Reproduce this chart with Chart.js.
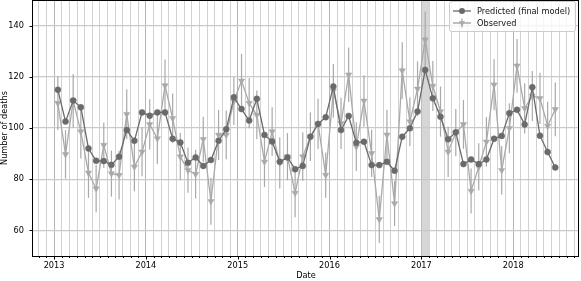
<!DOCTYPE html>
<html>
<head>
<meta charset="utf-8">
<script src="https://cdn.jsdelivr.net/npm/chart.js@4.4.1/dist/chart.umd.min.js"></script>
<style>
  html, body { margin: 0; padding: 0; background: #fff; }
  canvas { display: block; }
</style>
</head>
<body>
<canvas id="deathsChart" width="581" height="281"></canvas>
<script>
// monthly series, Jan 2013 .. Jun 2018 (index 0 = Jan 2013)
const yearLabels = ['2013', '2014', '2015', '2016', '2017', '2018'];
const predicted = [
    114.9, 102.5, 110.7, 108.1, 92.0, 87.2, 87.1, 85.6, 88.8, 99.2, 95.0, 106.1,
    104.8, 106.1, 106.1, 95.8, 94.3, 86.4, 88.5, 85.2, 87.5, 95.0, 99.5, 112.0,
    107.4, 102.9, 111.4, 97.3, 94.7, 86.8, 88.5, 83.9, 85.2, 96.6, 101.6, 104.2,
    116.2, 99.2, 104.7, 94.2, 94.6, 85.5, 85.5, 86.8, 83.3, 96.6, 99.9, 106.4,
    122.7, 111.6, 104.4, 95.6, 98.3, 85.9, 87.7, 85.9, 87.7, 95.8, 96.9, 105.8,
    107.1, 101.4, 115.9, 97.0, 90.6, 84.6
];
const observed = [
    109.7, 89.7, 110.6, 98.6, 82.5, 76.3, 93.3, 82.2, 81.6, 105.4, 84.8, 90.7,
    101.4, 95.9, 116.6, 103.8, 88.8, 83.5, 82.0, 95.6, 71.4, 97.3, 97.3, 110.5,
    118.4, 109.7, 105.1, 86.8, 98.6, 86.4, 88.8, 74.6, 88.8, 96.6, 101.6, 81.6,
    114.5, 101.8, 120.8, 92.7, 110.6, 90.1, 64.3, 97.3, 70.5, 122.4, 102.5, 115.3,
    134.5, 116.4, 106.4, 90.7, 98.2, 101.4, 75.4, 84.8, 94.6, 116.9, 83.5, 99.9,
    124.3, 107.7, 112.5, 111.6, 100.8, 107.3
];
const observedErr = [
    10.5, 9.5, 10.5, 10.5, 9.8, 9.2, 8.8, 9.0, 9.5, 9.7, 9.5, 9.5,
    9.8, 10.0, 10.2, 9.7, 9.2, 8.8, 9.5, 8.8, 9.2, 9.8, 9.5, 9.3,
    10.6, 9.8, 9.5, 9.8, 9.5, 10.0, 9.2, 9.5, 9.5, 9.5, 9.8, 8.8,
    10.5, 10.0, 10.6, 9.5, 10.0, 9.2, 9.2, 9.8, 8.8, 11.1, 9.5, 10.7,
    11.0, 9.8, 9.8, 9.8, 9.2, 9.5, 8.8, 9.2, 9.7, 10.0, 9.5, 9.8,
    10.5, 9.8, 9.8, 10.0, 9.5, 10.5
];
const yTicks = [60, 80, 100, 120, 140];
const shadedMonths = [48, 49]; // Jan 2017

const predColor = '#6a6a6a';
const obsColor = '#a9a9a9';
const font = { family: 'DejaVu Sans', size: 8.2 };

// month boundaries used for the monthly grid
const monthTicks = [];
for (let m = -2; m <= 68; m++) monthTicks.push(m);

const toPoints = arr => arr.map((v, i) => ({ x: i + 0.5, y: v }));

// drop the extra room chart.js keeps for half a tick label
const noPad = s => {
    s.paddingTop = 0; s.paddingBottom = 0; s.paddingLeft = 0; s.paddingRight = 0;
    s.getPadding = () => ({ left: 0, top: 0, right: 0, bottom: 0 });
};

const extrasPlugin = {
    id: 'extras',
    beforeDatasetsDraw(chart) {
        const { ctx, chartArea: a, scales: { x, y } } = chart;
        ctx.save();
        // shaded month
        ctx.fillStyle = 'rgba(200,200,200,0.75)';
        const x0 = x.getPixelForValue(shadedMonths[0]);
        const x1 = x.getPixelForValue(shadedMonths[1]);
        ctx.fillRect(x0, a.top, x1 - x0, a.bottom - a.top);
        // error bars
        ctx.beginPath();
        ctx.rect(a.left, a.top, a.right - a.left, a.bottom - a.top);
        ctx.clip();
        ctx.strokeStyle = obsColor;
        ctx.lineWidth = 1.2;
        observed.forEach((v, i) => {
            const px = x.getPixelForValue(i + 0.5);
            ctx.beginPath();
            ctx.moveTo(px, y.getPixelForValue(v - observedErr[i]));
            ctx.lineTo(px, y.getPixelForValue(v + observedErr[i]));
            ctx.stroke();
        });
        ctx.restore();
    },
    afterDraw(chart) {
        const { ctx, chartArea: a, scales: { x, y } } = chart;
        ctx.save();
        // frame
        ctx.strokeStyle = '#000';
        ctx.lineWidth = 1;
        ctx.strokeRect(Math.round(a.left) - 0.5, Math.round(a.top) + 0.5,
                       Math.round(a.right - a.left), Math.round(a.bottom - a.top));
        // tick marks
        ctx.beginPath();
        monthTicks.forEach(m => {
            const px = Math.round(x.getPixelForValue(m)) + 0.5;
            ctx.moveTo(px, a.bottom);
            ctx.lineTo(px, a.bottom + (m % 12 === 0 ? 3.5 : 2));
        });
        yTicks.forEach(v => {
            const py = Math.round(y.getPixelForValue(v)) + 0.5;
            ctx.moveTo(a.left - 3.5, py);
            ctx.lineTo(a.left, py);
        });
        ctx.stroke();

        // legend
        const bx = 449.5, by = 1.5, bw = 126, bh = 30;
        ctx.fillStyle = 'rgba(255,255,255,0.8)';
        ctx.strokeStyle = '#cccccc';
        ctx.beginPath();
        ctx.roundRect(bx, by, bw, bh, 2);
        ctx.fill();
        ctx.stroke();
        ctx.font = '8.2px "DejaVu Sans"';
        ctx.textBaseline = 'middle';
        chart.data.datasets.forEach((ds, k) => {
            const ly = 11 + k * 12;
            ctx.strokeStyle = ds.borderColor;
            ctx.lineWidth = 1.3;
            ctx.beginPath();
            ctx.moveTo(453, ly);
            ctx.lineTo(471, ly);
            if (k === 1) {
                ctx.moveTo(462, ly - 4.5);
                ctx.lineTo(462, ly + 4.5);
            }
            ctx.stroke();
            ctx.fillStyle = ds.borderColor;
            ctx.beginPath();
            if (k === 0) {
                ctx.arc(462, ly, 3, 0, Math.PI * 2);
            } else {
                ctx.moveTo(462 - 3, ly - 1.7);
                ctx.lineTo(462 + 3, ly - 1.7);
                ctx.lineTo(462, ly + 3.4);
                ctx.closePath();
            }
            ctx.fill();
            ctx.fillStyle = '#111';
            ctx.fillText(ds.label, 477, ly + 0.5);
        });
        ctx.restore();
    }
};

new Chart(document.getElementById('deathsChart').getContext('2d'), {
    type: 'line',
    data: {
        datasets: [
            {
                label: 'Predicted (final model)',
                data: toPoints(predicted),
                borderColor: predColor,
                backgroundColor: predColor,
                borderWidth: 1.3,
                pointStyle: 'circle',
                pointRadius: 3,
                pointBorderWidth: 0.5,
                tension: 0
            },
            {
                label: 'Observed',
                data: toPoints(observed),
                borderColor: obsColor,
                backgroundColor: obsColor,
                borderWidth: 1.3,
                pointStyle: 'triangle',
                pointRotation: 180,
                pointRadius: 3.6,
                pointBorderWidth: 0.5,
                tension: 0
            }
        ]
    },
    options: {
        responsive: false,
        animation: false,
        devicePixelRatio: 1,
        layout: { autoPadding: false, padding: { top: 0, right: 2, left: 0, bottom: 0 } },
        plugins: {
            legend: { display: false },
            tooltip: { enabled: false }
        },
        scales: {
            x: {
                type: 'linear',
                min: -2.75,
                max: 68.6,
                afterBuildTicks: s => { s.ticks = monthTicks.map(v => ({ value: v })); },
                afterFit: s => { s.height = 25; noPad(s); },
                grid: {
                    drawTicks: false,
                    color: c => (c.tick && c.tick.value % 12 === 0) ? '#b4b4b4' : '#d2d2d2',
                    lineWidth: 1
                },
                border: { display: false },
                ticks: {
                    autoSkip: false,
                    maxRotation: 0,
                    padding: 5,
                    color: '#000',
                    font: font,
                    callback: v => (v % 12 === 0) ? yearLabels[v / 12] : ''
                },
                title: { display: true, text: 'Date', color: '#000', font: font, padding: 0 }
            },
            y: {
                min: 50,
                max: 150,
                afterBuildTicks: s => { s.ticks = yTicks.map(v => ({ value: v })); },
                afterFit: s => { s.width = 33; noPad(s); },
                grid: { drawTicks: false, color: '#cacaca', lineWidth: 1.2 },
                border: { display: false },
                ticks: { padding: 9, color: '#000', font: font },
                title: { display: true, text: 'Number of deaths', color: '#000', font: font, padding: 0 }
            }
        }
    },
    plugins: [extrasPlugin]
});
</script>
</body>
</html>
